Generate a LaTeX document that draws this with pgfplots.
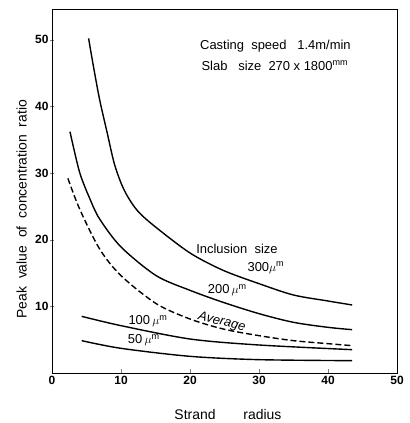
\documentclass[border=0pt]{standalone}
\usepackage{fontspec}
\setmainfont{Liberation Sans}
\usepackage{pgfplots}
\pgfplotsset{compat=1.18}
\tikzset{crv/.style={black, line width=1.4pt, smooth, mark=none}}

\begin{document}
\begin{tikzpicture}
\begin{axis}[
  scale only axis,
  width=345bp, height=364bp,
  xmin=0, xmax=50, ymin=0, ymax=54.6,
  xtick={0,10,...,50}, ytick={10,20,...,50},
  tick align=inside,
  ytick style={xshift=-2bp},
  xtick pos=bottom, ytick pos=left,
  major tick length=4bp,
  tick label style={font=\fontsize{12}{13}\selectfont\bfseries},
  /pgf/number format/assume math mode=true,
  xlabel={Strand\qquad radius},
  ylabel={Peak\ \ value\ \ of\ \ concentration\ \ ratio},
  label style={font=\fontsize{14}{15}\selectfont},
  xlabel style={at={(axis description cs:0.51,-0.115)}, anchor=center},
  ylabel style={at={(axis description cs:-0.088,0.45)}, anchor=center},
  axis line style={line width=1pt},
  clip=false,
]
% 300 um
\addplot[crv] coordinates {(5.3,50.2) (6,46) (6.9,41) (8,36) (9,31.5) (10,28.5) (11,26.4) (12.5,24.2) (15,21.9) (20,18) (24.8,15.4) (30,13.4) (35,11.7) (40,10.8) (43.5,10.2)};
% 200 um
\addplot[crv] coordinates {(2.6,36.2) (4,30.1) (5.5,26.1) (6.9,23.1) (10,18.9) (15.1,14.6) (20,12.4) (24.8,10.6) (30,8.9) (35,7.6) (40,6.85) (43.5,6.5)};
% average
\addplot[crv, dash pattern=on 6bp off 3bp] coordinates {(2.3,29.2) (4,24.6) (6.9,18.6) (10,14.6) (15.1,10.4) (20,8.1) (24.8,6.6) (30,5.6) (35,4.85) (40,4.4) (43.5,4.1)};
% 100 um
\addplot[crv] coordinates {(4.3,8.5) (10,7.1) (20,5.1) (30,4.2) (43.5,3.5)};
% 50 um
\addplot[crv] coordinates {(4.3,4.85) (10,3.7) (20,2.5) (30,2.0) (43.5,1.85)};

\begin{scope}[font=\fontsize{13}{14}\selectfont, inner sep=1pt]
\node at (axis cs:26.8,18.6) {Inclusion\ \ size};
\node at (axis cs:31,15.8) {300$\mu$\textsuperscript{m}};
\node at (axis cs:25.4,12.4) {200\,$\mu$\textsuperscript{m}};
\node[font=\fontsize{13}{14}\selectfont\itshape, rotate=-14, inner sep=0pt] at (axis cs:24.6,7.6) {Average};
\node at (axis cs:13.9,7.8) {100\,$\mu$\textsuperscript{m}};
\node at (axis cs:13.3,4.9) {50\,$\mu$\textsuperscript{m}};
\node[anchor=west] at (axis cs:21.3,49.1) {Casting\ \ speed\ \ \ 1.4m/min};
\node[anchor=west] at (axis cs:21.5,46.1) {Slab\ \ \ size\ \ 270 x 1800\textsuperscript{mm}};
\end{scope}
\coordinate (bl) at (axis cs:-7.54,-7.5);
\coordinate (tr) at (axis cs:51.88,55.95);
\end{axis}
\pgfresetboundingbox
\path (bl) rectangle (tr);
\end{tikzpicture}
\end{document}
